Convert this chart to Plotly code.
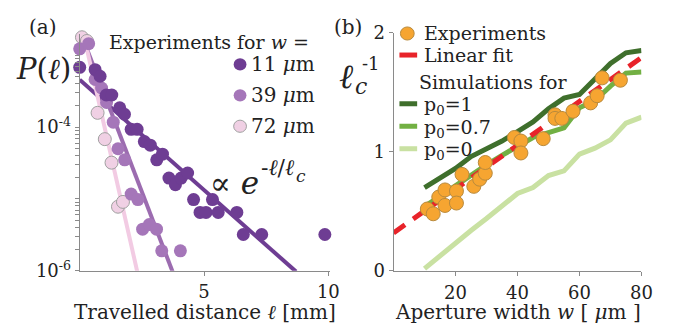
import plotly.graph_objects as go
import numpy as np

W, H = 681, 333

# ---------------- data: panel (a) ----------------
l_11 = [0, 0.62, 0.82, 1.07, 1.29, 1.61, 1.80, 2.07, 2.31, 2.60, 2.84, 3.10, 3.33, 3.59, 3.85,
        4.08, 4.34, 4.58, 4.84, 5.08, 5.34, 5.57, 6.32, 6.58, 7.32, 9.86]
P_11 = [6.8e-4, 6.3e-4, 5.1e-4, 2.8e-4, 2.8e-4, 1.86e-4, 1.51e-4, 9.3e-5, 9.3e-5, 6.3e-5, 5.6e-5,
        3.5e-5, 4.2e-5, 1.95e-5, 1.58e-5, 1.95e-5, 2.3e-5, 9.8e-6, 6.5e-6, 6.5e-6, 9.8e-6, 6.5e-6,
        6.5e-6, 3.2e-6, 3.2e-6, 3.2e-6]
l_39 = [0, 0.36, 0.62, 0.88, 1.08, 1.35, 1.54, 1.81, 2.07, 2.34, 2.53, 2.80, 3.09, 3.30, 4.05]
P_39 = [1.23e-3, 1.45e-3, 4.6e-4, 3.5e-4, 2.2e-4, 1.17e-4, 5.0e-5, 3.5e-5, 1.17e-5, 9.8e-6,
        3.8e-6, 4.4e-6, 3.8e-6, 1.9e-6, 1.9e-6]
l_72 = [0.09, 0.29, 0.72, 1.01, 1.28, 1.54, 1.74]
P_72 = [1.78e-3, 1.58e-3, 1.58e-4, 6.8e-5, 3.2e-5, 7.8e-6, 9.1e-6]

# exponential fits: log10 P = a + b * l
fit_a = [-3.34, -2.65, -2.47]
fit_b = [-0.307, -0.90, -1.53]
fit_lmax = [8.7, 3.75, 2.35]

# ---------------- data: panel (b) ----------------
w_exp = [10.9, 12.8, 14.6, 16.6, 16.6, 20.3, 20.3, 22.1, 25.9, 27.8, 29.6, 29.6, 39.0, 41.1, 41.1,
         48.3, 52.1, 52.1, 54.3, 57.9, 63.6, 65.7, 67.3, 73.2]
lc_exp = [0.52, 0.48, 0.62, 0.68, 0.55, 0.67, 0.57, 0.81, 0.71, 0.77, 0.82, 0.91, 1.12, 1.09, 0.99,
          1.11, 1.31, 1.28, 1.28, 1.34, 1.41, 1.47, 1.62, 1.60]
fit_w = [0, 80]
fit_lc = [0.32, 1.79]
w_sim = [10, 15, 20, 25, 30, 35, 40, 45, 50, 55, 60, 65, 70, 75, 80]
sim_p1 = [0.70, 0.78, 0.86, 0.96, 1.02, 1.09, 1.17, 1.25, 1.36, 1.45, 1.48, 1.61, 1.74, 1.83, 1.85]
sim_p07 = [0.54, 0.63, 0.72, 0.80, 0.89, 0.97, 1.04, 1.12, 1.16, 1.20, 1.37, 1.43, 1.55, 1.66, 1.67]
sim_p0 = [0.02, 0.13, 0.24, 0.34, 0.44, 0.55, 0.65, 0.70, 0.80, 0.84, 0.98, 1.03, 1.10, 1.24, 1.29]

C_DARK = "#6E3D93"
C_MED = "#A576B9"
C_LIGHT = "#F0D0E4"
L_DARK = "#6E3D93"
L_MED = "#9C6CB0"
L_LIGHT = "#F2CBE3"
C_ORANGE = "#F6A531"
C_RED = "#E8232A"
G_DARK = "#3F6F2C"
G_MID = "#72B043"
G_LIGHT = "#C9E1A2"
AX = "#8a8a8a"
FONT = "DejaVu Serif"

def px(x, y):
    return x / W, 1 - y / H

fig = go.Figure()

# ---- panel (a) fit lines
for a, b, lm, col in zip(fit_a, fit_b, fit_lmax, [L_DARK, L_MED, L_LIGHT]):
    ll = np.array([0.0, lm])
    fig.add_trace(go.Scatter(x=ll, y=10 ** (a + b * ll), mode="lines",
                             line=dict(color=col, width=4), xaxis="x", yaxis="y",
                             showlegend=False, hoverinfo="skip"))
# ---- panel (a) points
for lx, py_, col, lw in [(l_72, P_72, C_LIGHT, 1), (l_39, P_39, C_MED, 0), (l_11, P_11, C_DARK, 0)]:
    fig.add_trace(go.Scatter(x=lx, y=py_, mode="markers", xaxis="x", yaxis="y",
                             marker=dict(size=13, color=col, line=dict(color="#a0a0a0", width=lw)),
                             cliponaxis=False, showlegend=False))

# ---- panel (b) lines
for ys, col in [(sim_p0, G_LIGHT), (sim_p1, G_DARK), (sim_p07, G_MID)]:
    fig.add_trace(go.Scatter(x=w_sim, y=ys, mode="lines", line=dict(color=col, width=5),
                             xaxis="x2", yaxis="y2", showlegend=False))
fig.add_trace(go.Scatter(x=fit_w, y=fit_lc, mode="lines",
                         line=dict(color=C_RED, width=5, dash="14px,10px"),
                         xaxis="x2", yaxis="y2", showlegend=False))
fig.add_trace(go.Scatter(x=w_exp, y=lc_exp, mode="markers", xaxis="x2", yaxis="y2",
                         marker=dict(size=14, color=C_ORANGE, line=dict(color="#b98a3c", width=1)),
                         cliponaxis=False, showlegend=False))

# ---- log ticks for panel (a)
minor_vals = []
for e in range(-6, -2):
    for k in range(2, 10):
        v = k * 10.0 ** e
        if np.log10(v) <= -2.71:
            minor_vals.append(v)
minor_vals += [1e-5, 1e-3]

xa0, ya0 = px(81, 277.3)
xa1, ya1 = px(335, 25)
xb0, yb0 = px(400, 277.5)
xb1, yb1 = px(652, 23)

axis_common = dict(showgrid=False, zeroline=False, showline=True, linecolor=AX, linewidth=1,
                   ticks="outside", tickcolor=AX, ticklen=4,
                   tickfont=dict(family=FONT, size=18, color="#222"))

fig.update_layout(
    width=W, height=H, margin=dict(l=0, r=0, t=0, b=0),
    paper_bgcolor="white", plot_bgcolor="white", showlegend=False,
    xaxis=dict(domain=[xa0, xa1], range=[0, 10.05], tickvals=[5, 10], anchor="y",
               ticklabelstandoff=1, **axis_common),
    yaxis=dict(domain=[ya0, ya1], type="log", range=[-6, -2.71], tickvals=[1e-6, 1e-4],
               ticktext=["10<sup>-6</sup>", "10<sup>-4</sup>"], anchor="x",
               minor=dict(tickvals=minor_vals, ticks="outside", ticklen=4, tickcolor=AX),
               **axis_common),
    xaxis2=dict(domain=[xb0, xb1], range=[0, 80], tickvals=[20, 40, 60, 80], anchor="y2",
                ticklabelstandoff=1, **axis_common),
    yaxis2=dict(domain=[yb0, yb1], range=[0, 2], tickvals=[0, 1, 2], anchor="x2", **axis_common),
)

ann = []
def T(x, y, text, size=20, xanchor="left", yanchor="middle", color="#222"):
    xx, yy = px(x, y)
    ann.append(dict(x=xx, y=yy, xref="paper", yref="paper", text=text, showarrow=False,
                    xanchor=xanchor, yanchor=yanchor,
                    font=dict(family=FONT, size=size, color=color)))

# panel (a) texts
T(27, 17, "(a)", 20, "left")
T(14, 62, "<i>P</i>(<i>ℓ</i>)", 29, "left")
T(208, 321, "Travelled distance <i>ℓ</i> [mm]", 20, "center")
T(316, 33, "Experiments for <i>w</i> =", 19, "right")
for yy, lab in [(57, "11 <i>μ</i>m"), (90, "39 <i>μ</i>m"), (123, "72 <i>μ</i>m")]:
    T(253, yy, lab, 20, "left")
T(211, 184, "∝ <i>e</i>", 31, "left")
T(263, 167, "-<i>ℓ</i>/<i>ℓ</i>", 22, "left")
T(299, 176, "<i>c</i>", 17, "left")

# panel (b) texts
T(337, 17, "(b)", 20, "left")
T(343, 69, "<i>ℓ</i>", 34, "left")
T(359, 81, "<i>c</i>", 22, "left")
T(366, 56, "-1", 18, "left")
T(527, 321, "Aperture width <i>w</i> [ <i>μ</i>m ]", 20, "center")
T(429, 24, "Experiments", 19)
T(429, 47, "Linear fit", 19)
T(424, 76, "Simulations for", 19)
T(429, 101, "p<sub>0</sub>=1", 19)
T(429, 125, "p<sub>0</sub>=0.7", 19)
T(429, 149, "p<sub>0</sub>=0", 19)
fig.update_layout(annotations=ann)

# legend glyphs
shapes = []
def circ(cx, cy, r, fill, lc="rgba(0,0,0,0)", lw=0):
    x0, y0 = px(cx - r, cy + r)
    x1, y1 = px(cx + r, cy - r)
    shapes.append(dict(type="circle", xref="paper", yref="paper", x0=x0, y0=y0, x1=x1, y1=y1,
                       fillcolor=fill, line=dict(color=lc, width=lw)))
def seg(xs, xe, y, col, width=5, dash="solid"):
    x0, y0 = px(xs, y)
    x1, _ = px(xe, y)
    shapes.append(dict(type="line", xref="paper", yref="paper", x0=x0, y0=y0, x1=x1, y1=y0,
                       line=dict(color=col, width=width, dash=dash)))

circ(244, 57, 6.5, C_DARK)
circ(244, 90, 6.5, C_MED)
circ(244, 123, 6.5, C_LIGHT, "#a0a0a0", 1)
circ(414, 24, 7, C_ORANGE, "#b98a3c", 1)
seg(406, 424, 47, C_RED)
seg(406, 424, 99, G_DARK)
seg(406, 424, 123, G_MID)
seg(406, 424, 147, G_LIGHT)
fig.update_layout(shapes=shapes)

fig.write_html("out.html")
